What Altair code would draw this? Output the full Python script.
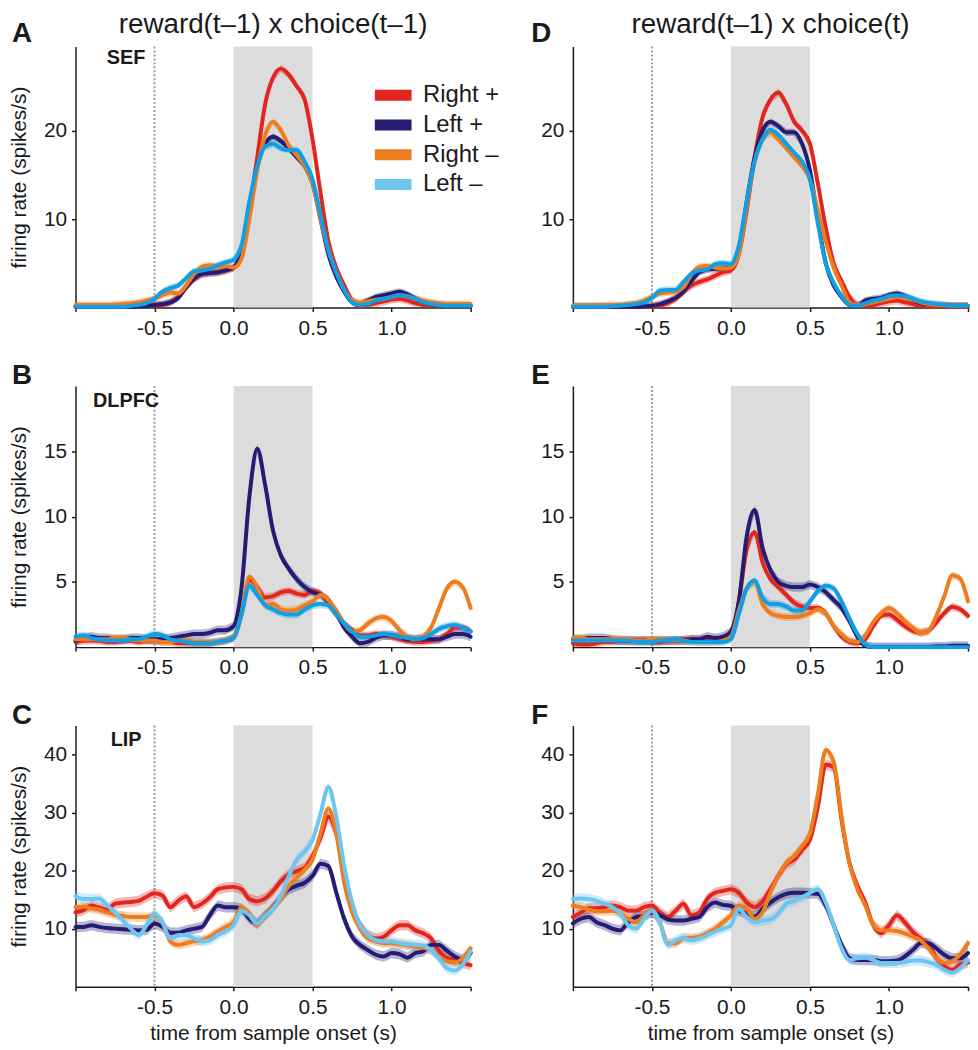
import altair as alt
import pandas as pd

# ---------------- data ----------------
T = [round(-1.0 + 0.05 * i, 2) for i in range(51)]   # time grid (s)
SERIES = ["Right +", "Left +", "Right –", "Left –"]
STIM_WINDOW = [0.0, 0.5]
CUE_TIME = -0.5

# SEF, reward(t-1) x choice(t-1)
sef_a_right_plus = [0.1,0.1,0.1,0.1,0.1,0.1,0.1,0.1,0.15,0.2,
                    0.2,0.3,0.6,1.2,2.3,3.2,3.8,3.9,4.0,4.2,
                    4.5,6.0,11.0,17.0,23.0,26.0,27.0,26.3,25.0,23.5,
                    19.0,13.0,7.5,4.5,2.5,0.8,0.2,0.3,0.5,0.7,
                    0.9,1.0,0.8,0.5,0.3,0.25,0.2,0.2,0.2,0.2,0.2]
sef_a_left_plus = [0.1,0.1,0.1,0.1,0.1,0.1,0.1,0.1,0.15,0.2,
                   0.3,0.4,0.6,1.1,2.3,3.3,3.8,3.9,4.0,4.2,
                   4.5,6.5,11.5,16.0,18.5,19.3,18.8,18.0,17.0,16.0,
                   14.0,10.0,6.0,3.5,1.8,0.6,0.4,0.8,1.2,1.4,
                   1.6,1.8,1.5,1.0,0.6,0.4,0.3,0.2,0.2,0.2,0.2]
sef_a_right_minus = [0.3,0.3,0.3,0.3,0.3,0.35,0.4,0.5,0.6,0.8,
                     1.0,1.4,1.7,1.6,2.5,3.8,4.6,4.8,4.6,4.7,
                     4.5,5.5,10.0,15.5,19.5,21.0,20.0,18.3,17.2,16.0,
                     14.0,10.0,6.5,4.0,2.0,0.8,0.5,0.7,0.9,1.0,
                     1.2,1.4,1.3,1.0,0.8,0.6,0.5,0.4,0.4,0.4,0.4]
sef_a_left_minus = [0.1,0.1,0.1,0.1,0.1,0.1,0.1,0.2,0.3,0.5,
                    1.0,1.8,2.2,2.5,3.3,4.1,4.2,4.4,4.8,5.1,
                    5.4,7.0,12.0,16.0,18.2,18.5,18.0,17.8,17.8,16.5,
                    14.5,10.5,6.5,4.0,2.0,0.6,0.3,0.4,0.8,1.0,
                    1.2,1.4,1.3,1.0,0.6,0.4,0.3,0.2,0.2,0.2,0.2]

# SEF, reward(t-1) x choice(t)
sef_d_right_plus = [0.1,0.1,0.1,0.1,0.1,0.1,0.1,0.1,0.1,0.1,
                    0.1,0.2,0.5,1.0,1.8,2.5,2.9,3.2,3.6,4.0,
                    4.2,6.0,11.0,17.0,21.5,23.5,24.3,23.0,21.0,20.0,
                    18.5,14.0,9.0,5.0,3.0,1.2,0.3,0.2,0.3,0.5,
                    0.7,0.8,0.6,0.4,0.2,0.15,0.1,0.1,0.1,0.1,0.1]
sef_d_left_plus = [0.1,0.1,0.1,0.1,0.1,0.1,0.1,0.1,0.1,0.15,
                   0.2,0.4,0.7,1.1,1.8,3.0,4.0,4.3,4.4,4.4,
                   4.6,6.5,12.0,17.0,20.0,21.0,20.5,19.8,19.8,18.5,
                   15.5,10.0,5.0,2.5,1.2,0.3,0.2,0.8,1.0,1.1,
                   1.4,1.6,1.3,0.9,0.5,0.4,0.3,0.25,0.2,0.2,0.2]
sef_d_right_minus = [0.2,0.2,0.2,0.2,0.25,0.3,0.3,0.4,0.5,0.8,
                     1.2,1.6,1.7,1.8,2.3,3.8,4.6,4.7,4.5,4.4,
                     4.5,6.0,11.5,16.5,19.0,19.8,19.0,18.0,17.0,16.0,
                     14.5,11.0,7.5,4.5,2.5,0.6,0.3,0.4,0.6,0.8,
                     1.0,1.2,1.1,0.9,0.6,0.4,0.3,0.25,0.2,0.2,0.2]
sef_d_left_minus = [0.1,0.1,0.1,0.1,0.1,0.15,0.2,0.3,0.4,0.6,
                    1.1,1.9,2.0,2.0,2.9,3.8,4.2,4.3,4.9,5.0,
                    4.9,7.0,12.0,16.5,19.0,20.1,19.5,18.5,17.5,16.5,
                    14.5,9.5,5.0,2.8,1.3,0.3,0.2,0.5,0.8,1.0,
                    1.3,1.4,1.3,1.0,0.7,0.5,0.4,0.3,0.2,0.2,0.2]

# DLPFC, reward(t-1) x choice(t-1)
dl_b_right_plus = [0.4,0.5,0.5,0.5,0.4,0.4,0.5,0.5,0.4,0.5,
                   0.5,0.4,0.4,0.3,0.3,0.3,0.3,0.3,0.4,0.5,
                   0.7,2.5,5.2,4.6,3.8,3.9,4.2,4.3,4.1,4.0,
                   4.3,4.1,3.3,2.5,1.8,1.3,0.9,0.9,1.0,0.9,
                   0.8,0.6,0.5,0.4,0.4,0.5,0.6,1.0,1.5,1.5,1.2]
dl_b_left_plus = [0.5,0.7,0.8,0.7,0.7,0.6,0.6,0.7,0.7,0.6,
                  0.6,0.6,0.7,0.8,0.9,1.0,1.0,1.1,1.3,1.3,
                  1.6,4.5,11.5,15.2,12.4,8.9,7.0,6.0,5.2,4.6,
                  4.2,4.0,3.6,2.6,1.5,0.8,0.3,0.4,0.7,0.9,
                  0.9,0.8,0.6,0.6,0.6,0.6,0.6,0.8,1.0,1.0,0.8]
dl_b_right_minus = [0.6,0.6,0.6,0.6,0.6,0.7,0.7,0.6,0.5,0.5,
                    0.5,0.4,0.4,0.5,0.5,0.4,0.4,0.4,0.4,0.5,
                    0.8,2.5,5.4,4.6,3.2,3.3,2.9,2.8,2.9,3.2,
                    3.5,4.0,3.6,2.8,1.8,1.2,1.3,1.8,2.2,2.3,
                    2.0,1.3,0.8,0.6,0.8,1.5,3.0,4.5,5.0,4.6,3.0]
dl_b_left_minus = [0.8,0.9,0.7,0.6,0.5,0.5,0.5,0.6,0.6,0.8,
                   1.0,0.9,0.6,0.5,0.4,0.3,0.3,0.3,0.4,0.5,
                   0.7,2.5,4.7,4.0,3.2,2.9,2.6,2.5,2.5,2.9,
                   3.2,3.3,3.2,2.5,1.8,1.2,0.8,0.8,0.9,1.0,
                   0.9,0.8,0.7,0.6,0.7,1.0,1.4,1.6,1.7,1.5,1.2]

# DLPFC, reward(t-1) x choice(t)
dl_e_right_plus = [0.3,0.2,0.2,0.3,0.4,0.4,0.5,0.5,0.5,0.5,
                   0.4,0.4,0.5,0.5,0.6,0.6,0.6,0.6,0.6,0.6,
                   0.8,3.5,7.5,8.8,6.5,5.2,4.6,4.0,3.4,3.1,
                   3.0,3.0,2.6,1.6,0.8,0.4,0.3,0.6,1.6,2.4,
                   2.5,2.1,1.6,1.25,1.1,1.25,1.9,2.6,3.1,2.9,2.4]
dl_e_left_plus = [0.6,0.6,0.7,0.7,0.7,0.6,0.5,0.5,0.5,0.5,
                  0.5,0.5,0.5,0.5,0.5,0.6,0.6,0.8,0.7,0.8,
                  1.2,3.5,8.5,10.5,7.6,5.9,5.0,4.7,4.6,4.6,
                  4.8,4.6,4.2,3.6,3.0,2.0,0.8,0.1,0.0,0.0,
                  0.0,0.0,0.0,0.0,0.0,0.0,0.05,0.05,0.1,0.1,0.1]
dl_e_right_minus = [0.7,0.7,0.6,0.6,0.6,0.6,0.6,0.6,0.5,0.5,
                    0.6,0.6,0.5,0.5,0.5,0.4,0.4,0.4,0.4,0.5,
                    0.8,2.8,4.5,5.0,3.3,2.6,2.4,2.3,2.3,2.4,
                    2.6,2.9,2.6,1.6,1.0,0.5,0.4,0.9,1.9,2.6,
                    3.0,2.6,2.0,1.5,1.1,1.25,2.4,3.9,5.5,5.25,3.5]
dl_e_left_minus = [0.5,0.5,0.5,0.5,0.5,0.5,0.5,0.5,0.4,0.4,
                   0.4,0.5,0.5,0.6,0.5,0.4,0.4,0.4,0.4,0.4,
                   0.6,2.5,4.5,5.1,3.8,3.3,3.3,3.1,2.8,2.8,
                   3.5,4.3,4.7,4.5,3.5,2.2,1.0,0.2,0.0,0.0,
                   0.0,0.0,0.0,0.0,0.0,0.0,0.0,0.0,0.0,0.0,0.0]

# LIP, reward(t-1) x choice(t-1)
lip_c_right_plus = [12.8,13.2,14.0,13.6,13.3,14.3,14.5,14.6,14.8,15.5,
                    16.1,15.7,13.7,14.8,15.6,13.7,14.3,15.4,16.8,17.1,
                    17.2,16.8,15.1,14.7,15.2,16.5,18.2,19.4,19.9,20.5,
                    22.5,25.6,29.3,26.4,19.6,14.0,10.6,8.9,8.3,8.6,
                    9.7,10.6,10.6,9.7,9.2,8.3,6.1,4.9,4.6,4.1,3.7]
lip_c_left_plus = [10.3,10.3,10.6,10.3,10.1,10.0,9.9,9.8,9.7,9.8,
                   10.9,10.3,9.3,9.3,9.7,10.0,10.3,12.3,14.0,13.7,
                   13.7,13.4,11.7,10.9,12.3,13.7,15.4,16.8,17.4,17.9,
                   19.1,21.2,20.8,16.2,11.7,8.6,7.2,6.3,5.5,5.2,
                   5.8,5.6,5.0,5.8,6.1,7.2,7.2,6.2,5.2,4.6,5.8]
lip_c_right_minus = [13.7,13.8,13.5,13.3,12.8,12.4,12.2,12.0,12.0,12.0,
                     12.3,11.1,7.8,7.2,7.5,7.8,8.0,8.6,9.5,10.3,
                     11.1,13.7,12.6,10.6,12.3,13.7,15.1,17.4,18.8,20.2,
                     21.9,26.4,30.7,26.4,17.9,12.8,10.0,8.3,7.8,7.5,
                     7.5,7.3,7.1,6.9,6.7,6.3,5.2,4.4,4.2,4.9,6.6]
lip_c_left_minus = [15.6,15.1,15.1,15.2,14.0,12.8,11.4,10.0,8.9,10.6,
                    12.6,11.1,8.3,8.9,8.9,8.3,7.8,8.0,8.9,9.5,
                    10.6,13.1,12.3,10.9,12.2,13.4,15.7,19.1,21.9,23.3,
                    25.3,29.8,34.4,29.3,20.8,14.5,10.6,8.9,8.0,7.8,
                    7.8,7.5,7.3,7.2,7.1,6.3,4.9,3.2,2.8,3.8,6.1]

# LIP, reward(t-1) x choice(t)
lip_f_right_plus = [12.0,12.8,13.5,13.5,13.7,14.0,13.7,13.1,13.1,13.7,
                    14.0,12.8,12.0,13.1,14.3,12.3,12.8,15.1,16.2,16.5,
                    16.8,16.2,14.5,13.7,14.7,16.8,19.1,21.1,21.9,23.6,
                    25.3,31.0,38.3,37.8,28.7,21.3,17.4,14.5,10.6,9.2,
                    10.6,12.3,11.1,9.5,8.3,7.2,4.9,3.5,2.9,3.8,4.1]
lip_f_left_plus = [10.9,11.7,12.0,11.1,10.6,10.0,9.7,11.1,12.0,12.2,
                   12.8,12.3,11.6,11.4,11.4,11.7,12.0,13.7,14.5,14.1,
                   13.9,13.1,12.6,12.0,13.4,14.5,15.4,16.0,16.2,16.2,
                   16.1,16.0,14.0,10.6,7.2,4.9,4.6,4.6,4.6,4.4,
                   4.4,4.5,5.2,6.3,7.5,7.5,6.6,5.5,4.9,4.9,5.8]
lip_f_right_minus = [14.0,13.7,13.3,13.0,13.0,13.1,12.6,11.7,11.1,12.3,
                     13.1,11.1,7.5,7.5,8.4,8.4,8.6,9.2,10.0,11.1,
                     12.3,14.0,13.4,11.7,12.8,16.2,19.1,21.3,22.5,24.2,
                     26.4,33.2,40.8,38.8,29.3,21.3,16.8,14.0,10.6,9.7,
                     9.7,9.6,9.2,8.6,8.0,6.6,4.9,4.1,4.4,5.5,7.5]
lip_f_left_minus = [15.1,15.2,15.1,14.8,14.3,13.7,12.6,10.6,10.0,11.7,
                    13.1,11.1,7.2,8.0,8.4,8.0,8.3,8.9,9.5,10.0,
                    10.6,13.4,12.0,11.1,11.4,11.6,12.6,14.3,14.8,15.4,
                    16.2,16.8,14.5,10.6,6.6,4.6,4.9,5.0,4.6,4.1,
                    4.1,4.1,4.2,4.5,4.5,4.2,3.8,2.9,2.4,3.2,4.6]

# half-width of the shaded error band (spikes/s), per series
sef_sem = [0.45, 0.4, 0.4, 0.4]
dl_sem = [0.3, 0.35, 0.3, 0.3]
lip_sem = [0.9, 0.9, 0.8, 0.9]

SEF_TICKS = [10, 20]
DL_TICKS = [5, 10, 15]
LIP_TICKS = [10, 20, 30, 40]

# ---------------- styling ----------------
FONT = "Liberation Sans"
INK = "#1a1a1a"
COL_MAIN = ["#e0261f", "#241b72", "#ee7d1f", "#0f9fe2"]
COL_LIP = ["#e0261f", "#241b72", "#ee7d1f", "#6ec6f0"]
COL_LEGEND = ["#e0261f", "#241b72", "#ee7d1f", "#70c6ef"]
W, H = 398, 263
XDOM = [-1.0, 1.5]
SWATCH = "M-2,-0.6H2V0.6H-2Z"   # wide bar-shaped legend swatch


def panel(vals, sems, ymax, yticks, region, letter, letter_dx, letter_dy,
          region_dy, title=None, left=False, bottom=False, colors=COL_MAIN,
          legend=False):
    rows = []
    for s, v_list, sem in zip(SERIES, vals, sems):
        for t, v in zip(T, v_list):
            rows.append({"t": t, "series": s, "rate": v,
                         "lo": v - sem, "hi": v + sem})
    df = pd.DataFrame(rows)

    xaxis = alt.Axis(
        values=[-1.0, -0.5, 0.0, 0.5, 1.0, 1.5],
        labelExpr="(datum.value == -1 || datum.value == 1.5) ? '' : "
                  "((datum.value < 0 ? '-' : '') + format(abs(datum.value), '.1f'))",
        title="time from sample onset (s)" if bottom else None,
        grid=False, labelOverlap=False, labelFlush=False,
    )
    yaxis = alt.Axis(
        values=yticks, format="d",
        title="firing rate (spikes/s)" if left else None,
        grid=False, labelOverlap=False, labelFlush=False,
    )
    xsc = alt.Scale(domain=XDOM, nice=False, zero=False)
    ysc = alt.Scale(domain=[0, ymax], nice=False, zero=True)

    shade = alt.Chart(pd.DataFrame({"start": [STIM_WINDOW[0]], "end": [STIM_WINDOW[1]]})).mark_rect(
        color="#dcdcdc").encode(
        x=alt.X("start:Q", scale=xsc, axis=xaxis), x2="end:Q",
        y=alt.value(0), y2=alt.value(H))
    cue = alt.Chart(pd.DataFrame({"start": [CUE_TIME]})).mark_rule(
        color="#9a9a9a", strokeDash=[2, 2], strokeWidth=2).encode(
        x=alt.X("start:Q", scale=xsc, axis=xaxis))
    bands = alt.Chart(df).mark_area(opacity=0.33, clip=True).encode(
        x=alt.X("t:Q", scale=xsc, axis=xaxis),
        y=alt.Y("lo:Q", scale=ysc, axis=yaxis), y2="hi:Q",
        color=alt.Color("series:N", scale=alt.Scale(domain=SERIES, range=colors), legend=None),
        detail="series:N")
    lines = alt.Chart(df).mark_line(strokeWidth=4, interpolate="monotone",
                                    strokeJoin="round", strokeCap="round").encode(
        x=alt.X("t:Q", scale=xsc, axis=xaxis),
        y=alt.Y("rate:Q", scale=ysc, axis=yaxis),
        color=alt.Color("series:N", scale=alt.Scale(domain=SERIES, range=colors), legend=None))
    layers = [shade, cue, bands, lines]

    if legend:
        leg = alt.Chart(df).mark_point(filled=True, opacity=0).encode(
            x=alt.X("t:Q", scale=xsc, axis=xaxis),
            y=alt.Y("rate:Q", scale=ysc, axis=yaxis),
            color=alt.Color("series:N", scale=alt.Scale(domain=SERIES, range=COL_LEGEND),
                            legend=alt.Legend(
                                title=None, orient="none", legendX=308, legendY=37,
                                symbolType=SWATCH, symbolSize=342,
                                symbolStrokeWidth=0, symbolOpacity=1,
                                labelFontSize=24, labelFont=FONT, labelColor=INK,
                                rowPadding=6, labelOffset=18, padding=0)))
        layers.append(leg)

    rx = (-0.68 - XDOM[0]) / (XDOM[1] - XDOM[0]) * W
    lab = alt.Chart(pd.DataFrame({"txt": [region]})).mark_text(
        fontSize=20, fontWeight="bold", font=FONT, color=INK, align="center",
        baseline="alphabetic").encode(x=alt.value(rx), y=alt.value(region_dy), text="txt:N")
    let = alt.Chart(pd.DataFrame({"txt": [letter]})).mark_text(
        fontSize=28, fontWeight="bold", font=FONT, color=INK, align="left",
        baseline="alphabetic").encode(x=alt.value(letter_dx), y=alt.value(letter_dy), text="txt:N")
    layers += [lab, let]
    if title:
        ttl = alt.Chart(pd.DataFrame({"txt": [title]})).mark_text(
            fontSize=28, font=FONT, color=INK, align="center",
            baseline="alphabetic").encode(x=alt.value(W / 2), y=alt.value(-14), text="txt:N")
        layers.append(ttl)

    return alt.layer(*layers).resolve_scale(color="independent").properties(width=W, height=H)


pA = panel([sef_a_right_plus, sef_a_left_plus, sef_a_right_minus, sef_a_left_minus], sef_sem,
           29.5, SEF_TICKS, "SEF", "A", -64, -5, 18, title="reward(t–1) x choice(t–1)",
           left=True, legend=True)
pD = panel([sef_d_right_plus, sef_d_left_plus, sef_d_right_minus, sef_d_left_minus], sef_sem,
           29.5, SEF_TICKS, "", "D", -42, -5, 18, title="reward(t–1) x choice(t)")
pB = panel([dl_b_right_plus, dl_b_left_plus, dl_b_right_minus, dl_b_left_minus], dl_sem,
           20, DL_TICKS, "DLPFC", "B", -64, -2, 21, left=True)
pE = panel([dl_e_right_plus, dl_e_left_plus, dl_e_right_minus, dl_e_left_minus], dl_sem,
           20, DL_TICKS, "", "E", -42, -2, 21)
pC = panel([lip_c_right_plus, lip_c_left_plus, lip_c_right_minus, lip_c_left_minus], lip_sem,
           45, LIP_TICKS, "LIP", "C", -64, -2, 21, left=True, bottom=True, colors=COL_LIP)
pF = panel([lip_f_right_plus, lip_f_left_plus, lip_f_right_minus, lip_f_left_minus], lip_sem,
           45, LIP_TICKS, "", "F", -42, -2, 21, bottom=True, colors=COL_LIP)

chart = alt.concat(pA, pD, pB, pE, pC, pF, columns=2,
                   spacing={"row": 79, "column": 103}, bounds="flush").resolve_scale(
    color="independent").properties(
    padding={"top": -1, "left": 0, "right": 0, "bottom": 0}).configure(font=FONT).configure_view(
    stroke=None).configure_axis(
    domainColor=INK, domainWidth=1.5, tickColor=INK, tickWidth=1.5, tickSize=4,
    labelFont=FONT, labelFontSize=21, labelColor=INK, labelPadding=5,
    titleFont=FONT, titleFontSize=21, titleFontWeight="normal", titleColor=INK,
).configure_axisY(titlePadding=14).configure_axisX(labelPadding=6, titlePadding=5)

chart.save("out.html", embed_options={"renderer": "svg", "actions": False})
